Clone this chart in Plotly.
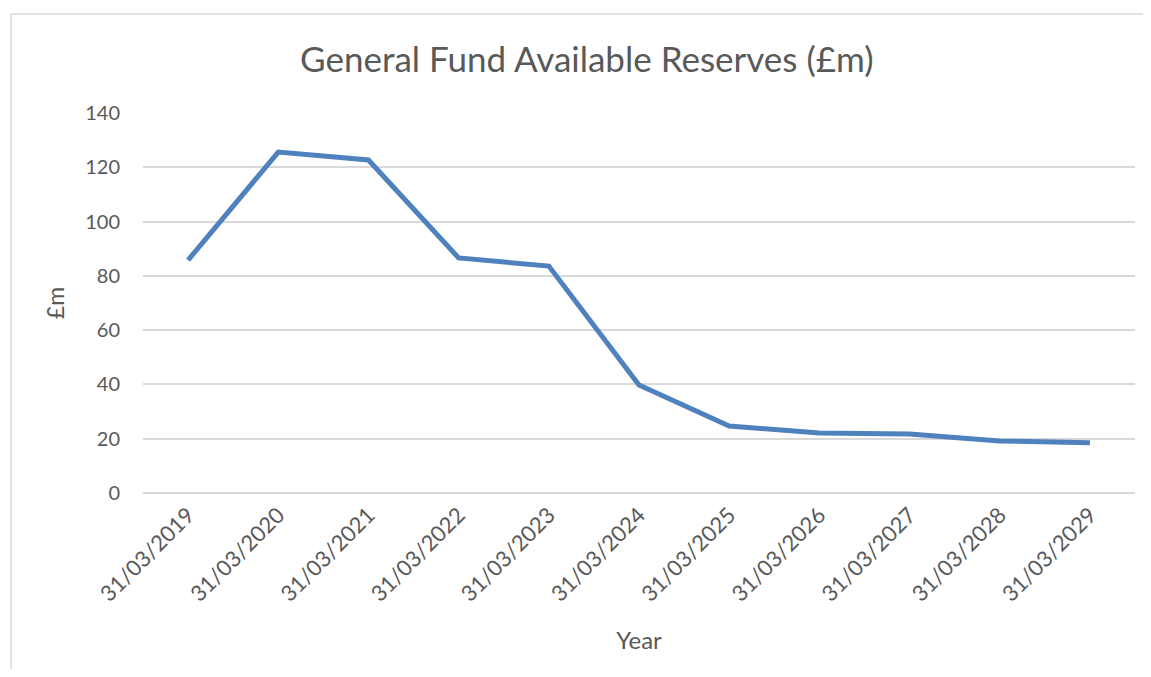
"""General Fund Available Reserves line chart."""
import plotly.graph_objects as go

years = ["31/03/2019", "31/03/2020", "31/03/2021", "31/03/2022", "31/03/2023",
         "31/03/2024", "31/03/2025", "31/03/2026", "31/03/2027", "31/03/2028",
         "31/03/2029"]
reserves = [85.8, 125.6, 122.7, 86.6, 83.6, 39.8, 24.7, 22.1, 21.7, 19.2, 18.5]

LINE = "#4F81BD"
TEXT = "#595959"
GRID = "#D9D9D9"
FONT = "Lato, 'Open Sans', sans-serif"

fig = go.Figure()
fig.add_trace(go.Scatter(
    x=years, y=reserves, mode="lines",
    line=dict(color=LINE, width=5),
    name="Reserves",
))

# outer chart frame (Excel style): only top and left edges are in view
frame = dict(type="line", xref="paper", yref="paper",
             line=dict(color=GRID, width=1.5), layer="below")
fig.add_shape(x0=-0.133, x1=1.05, y0=1.2605, y1=1.2605, **frame)
fig.add_shape(x0=-0.133, x1=-0.133, y0=1.2605, y1=-0.6, **frame)

# page body has an 8px margin, so the figure is sized to fit inside it
fig.update_layout(
    width=1135, height=661,
    margin=dict(l=135, r=8, t=105, b=176, autoexpand=False),
    paper_bgcolor="white", plot_bgcolor="white",
    showlegend=False,
    font=dict(family=FONT, color=TEXT, size=20),
    title=dict(
        text="General Fund Available Reserves (£m)",
        x=0.51, xanchor="center", y=0.921, yanchor="middle",
        font=dict(size=35, color=TEXT, family=FONT),
    ),
    xaxis=dict(
        type="category", range=[-0.5, 10.5], tickangle=-45,
        showgrid=False, showline=False, automargin=False,
        ticks="", ticklabelstandoff=4, tickfont=dict(size=22, color=TEXT),
        title=dict(text="Year", font=dict(size=24, color=TEXT), standoff=26),
    ),
    yaxis=dict(
        range=[0, 140], dtick=20, showgrid=True, gridcolor=GRID, gridwidth=1.5,
        zeroline=True, zerolinecolor=GRID, zerolinewidth=1.5, automargin=False,
        showline=False, ticks="", ticklabelstandoff=22,
        tickfont=dict(size=20, color=TEXT),
        title=dict(text="£m", font=dict(size=23, color=TEXT), standoff=14),
    ),
)

fig.write_html("out.html")
